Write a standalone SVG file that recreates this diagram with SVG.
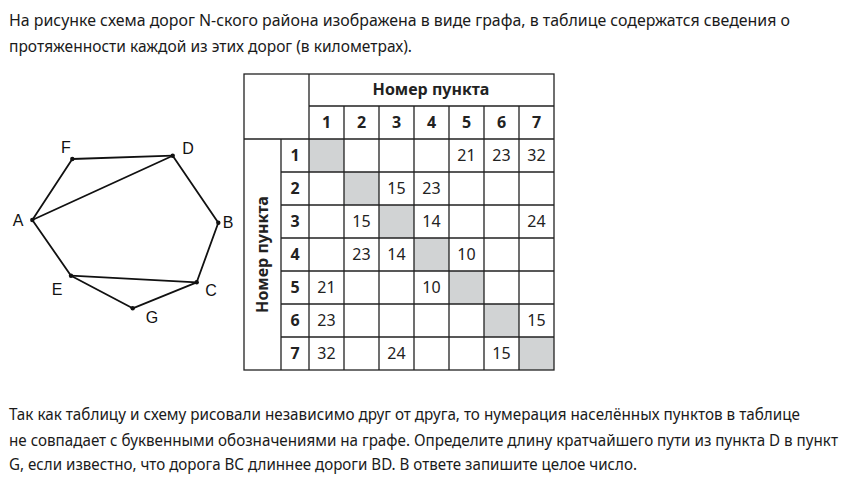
<svg xmlns="http://www.w3.org/2000/svg" width="866" height="484" viewBox="0 0 866 484">
<style>
.body{font-family:"Noto Sans","Liberation Sans",sans-serif;font-size:16px;fill:#1a1a1a}
.lbl{font-family:"Liberation Sans",Arial,sans-serif;font-size:16px;fill:#111;text-anchor:middle}
.edge{stroke:#111;stroke-width:1.8;fill:none;stroke-linecap:round}
.dot{fill:#111}
.grid{stroke:#222;stroke-width:1.3;fill:none}
.gray{fill:#d1d3d4}
.th{font-family:"Noto Sans","Liberation Sans",sans-serif;font-size:16px;font-weight:bold;fill:#222;text-anchor:middle}
.td{font-family:"Noto Sans","Liberation Sans",sans-serif;font-size:16px;fill:#222;text-anchor:middle}
</style>
<rect width="866" height="484" fill="#fff"/>
<text class="body" x="9" y="26" textLength="781" lengthAdjust="spacingAndGlyphs">На рисунке схема дорог N-ского района изображена в виде графа, в таблице содержатся сведения о</text>
<text class="body" x="9" y="52" textLength="403" lengthAdjust="spacingAndGlyphs">протяженности каждой из этих дорог (в километрах).</text>

<g id="connectors">
<line class="edge" x1="32.3" y1="220" x2="72.3" y2="159"/>
<line class="edge" x1="72.3" y1="159" x2="172.7" y2="155.7"/>
<line class="edge" x1="32.3" y1="220" x2="172.7" y2="155.7"/>
<line class="edge" x1="172.7" y1="155.7" x2="218.3" y2="222.7"/>
<line class="edge" x1="218.3" y1="222.7" x2="196.7" y2="282.3"/>
<line class="edge" x1="32.3" y1="220" x2="71" y2="275.7"/>
<line class="edge" x1="71" y1="275.7" x2="196.7" y2="282.3"/>
<line class="edge" x1="71" y1="275.7" x2="132.7" y2="308.3"/>
<line class="edge" x1="132.7" y1="308.3" x2="196.7" y2="282.3"/>
</g>
<g id="node-A"><circle class="dot" cx="32.3" cy="220" r="2.2"/><text class="lbl" x="18" y="226">A</text></g>
<g id="node-F"><circle class="dot" cx="72.3" cy="159" r="2.2"/><text class="lbl" x="66" y="153">F</text></g>
<g id="node-D"><circle class="dot" cx="172.7" cy="155.7" r="2.2"/><text class="lbl" x="188" y="154">D</text></g>
<g id="node-B"><circle class="dot" cx="218.3" cy="222.7" r="2.2"/><text class="lbl" x="228" y="228">B</text></g>
<g id="node-C"><circle class="dot" cx="196.7" cy="282.3" r="2.2"/><text class="lbl" x="211" y="296">C</text></g>
<g id="node-E"><circle class="dot" cx="71" cy="275.7" r="2.2"/><text class="lbl" x="57" y="295">E</text></g>
<g id="node-G"><circle class="dot" cx="132.7" cy="308.3" r="2.2"/><text class="lbl" x="152" y="323">G</text></g>

<g id="table">
<rect class="gray" x="309" y="139" width="35" height="33"/>
<rect class="gray" x="344" y="172" width="35" height="33"/>
<rect class="gray" x="379" y="205" width="35" height="33"/>
<rect class="gray" x="414" y="238" width="35" height="33"/>
<rect class="gray" x="449" y="271" width="35" height="33"/>
<rect class="gray" x="484" y="304" width="35" height="33"/>
<rect class="gray" x="519" y="337" width="35" height="33"/>
<rect class="grid" x="244" y="74" width="310" height="296"/>
<path class="grid" d="M309 106H554M244 139H554M281 172H554M281 205H554M281 238H554M281 271H554M281 304H554M281 337H554
M309 74V370M281 139V370M344 106V370M379 106V370M414 106V370M449 106V370M484 106V370M519 106V370"/>
<text class="th" x="431" y="95">Номер пункта</text>
<text class="th" transform="translate(268 254.5) rotate(-90)">Номер пункта</text>
<g class="th">
<text x="326.5" y="128">1</text><text x="361.5" y="128">2</text><text x="396.5" y="128">3</text><text x="431.5" y="128">4</text><text x="466.5" y="128">5</text><text x="501.5" y="128">6</text><text x="536.5" y="128">7</text>
<text x="295" y="161">1</text><text x="295" y="194">2</text><text x="295" y="227">3</text><text x="295" y="260">4</text><text x="295" y="293">5</text><text x="295" y="326">6</text><text x="295" y="359">7</text>
</g>
<g class="td">
<text x="466.5" y="161">21</text><text x="501.5" y="161">23</text><text x="536.5" y="161">32</text>
<text x="396.5" y="194">15</text><text x="431.5" y="194">23</text>
<text x="361.5" y="227">15</text><text x="431.5" y="227">14</text><text x="536.5" y="227">24</text>
<text x="361.5" y="260">23</text><text x="396.5" y="260">14</text><text x="466.5" y="260">10</text>
<text x="326.5" y="293">21</text><text x="431.5" y="293">10</text>
<text x="326.5" y="326">23</text><text x="536.5" y="326">15</text>
<text x="326.5" y="359">32</text><text x="396.5" y="359">24</text><text x="501.5" y="359">15</text>
</g>
</g>

<text class="body" x="9" y="420" textLength="791" lengthAdjust="spacingAndGlyphs">Так как таблицу и схему рисовали независимо друг от друга, то нумерация населённых пунктов в таблице</text>
<text class="body" x="9" y="446" textLength="829" lengthAdjust="spacingAndGlyphs">не совпадает с буквенными обозначениями на графе. Определите длину кратчайшего пути из пункта D в пункт</text>
<text class="body" x="9" y="470" textLength="628" lengthAdjust="spacingAndGlyphs">G, если известно, что дорога ВС длиннее дороги BD. В ответе запишите целое число.</text>
</svg>
